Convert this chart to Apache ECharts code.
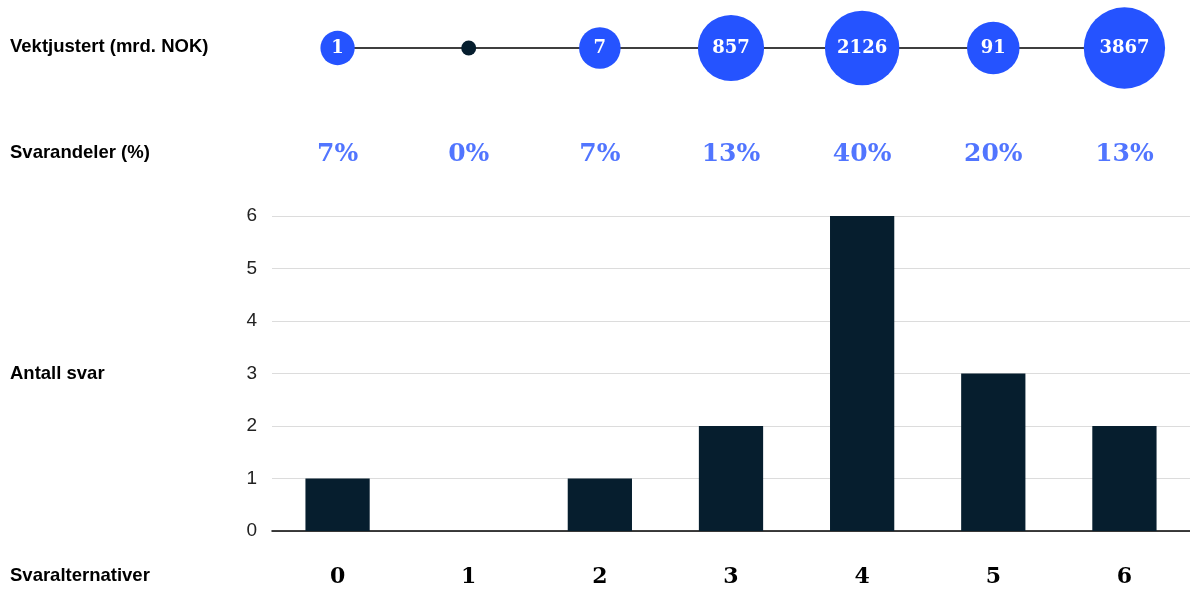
<!DOCTYPE html>
<html>
<head>
<meta charset="utf-8">
<script src="https://cdn.jsdelivr.net/npm/echarts@6/dist/echarts.min.js"></script>
<style>html,body{margin:0;padding:0;background:#fff}#c{width:1190px;height:589px}</style>
</head>
<body>
<div id="c"></div>
<script>
const categories = ['0', '1', '2', '3', '4', '5', '6'];
const answerCounts = [1, 0, 1, 2, 6, 3, 2];
const shares = [7, 0, 7, 13, 40, 20, 13];
const weighted = [1, 0, 7, 857, 2126, 91, 3867];
const yTicks = [0, 1, 2, 3, 4, 5, 6];
const rowLabels = ['Vektjustert (mrd. NOK)', 'Svarandeler (%)', 'Antall svar', 'Svaralternativer'];

const BLUE = '#2553ff';
const DARK = '#061e2e';
const SERIF = '"DejaVu Serif", "Liberation Serif", serif';
const SANS = '"Liberation Sans", Arial, sans-serif';

const chart = echarts.init(document.getElementById('c'));

function bubbleSize(v) {
  if (v === 0) return 15;
  return 34 + 8 * Math.log10(v) + 0.3 * Math.sqrt(v);
}

const rowY = [47, 153, 374, 576];

chart.setOption({
  animation: false,
  graphic: rowLabels.map((t, i) => ({
    type: 'text', x: 10, y: rowY[i],
    style: { text: t, font: 'bold 18.5px ' + SANS, fill: '#000', verticalAlign: 'middle', align: 'left' }
  })),
  grid: [
    { left: 272, right: 0, top: 216, bottom: 58 },
    { left: 272, right: 0, top: 8, height: 80 },
    { left: 272, right: 0, top: 134, height: 40 }
  ],
  xAxis: [
    {
      gridIndex: 0, type: 'category', data: categories,
      axisLine: { show: true, lineStyle: { color: '#000', width: 1.5 } },
      axisTick: { show: false },
      axisLabel: { margin: 35, fontFamily: SERIF, fontWeight: 'bold', fontSize: 22, color: '#000' }
    },
    { gridIndex: 1, type: 'category', data: categories, show: false },
    { gridIndex: 2, type: 'category', data: categories, show: false }
  ],
  yAxis: [
    {
      gridIndex: 0, type: 'value', min: yTicks[0], max: yTicks[yTicks.length - 1], interval: 1,
      axisLine: { show: false }, axisTick: { show: false },
      axisLabel: { margin: 15, fontFamily: SANS, fontSize: 19, color: '#222' },
      splitLine: { lineStyle: { color: '#dcdcdc', width: 1 } }
    },
    { gridIndex: 1, type: 'value', min: 0, max: 2, show: false },
    { gridIndex: 2, type: 'value', min: 0, max: 2, show: false }
  ],
  series: [
    {
      type: 'bar', xAxisIndex: 0, yAxisIndex: 0, data: answerCounts,
      barWidth: '49%', itemStyle: { color: DARK }
    },
    {
      type: 'line', xAxisIndex: 1, yAxisIndex: 1,
      data: weighted.map(v => ({
        value: 1,
        symbolSize: bubbleSize(v),
        itemStyle: { color: v === 0 ? DARK : BLUE },
        label: { show: v !== 0 }
      })),
      symbol: 'circle',
      showAllSymbol: true,
      lineStyle: { color: '#000', width: 1.5 },
      z: 3,
      label: {
        position: 'inside',
        formatter: p => String(weighted[p.dataIndex]),
        fontFamily: SERIF, fontWeight: 'bold', fontSize: 18, color: '#fff'
      }
    },
    {
      type: 'scatter', xAxisIndex: 2, yAxisIndex: 2,
      data: shares.map(() => 1), symbolSize: 0,
      label: {
        show: true, position: 'inside',
        formatter: p => shares[p.dataIndex] + '%',
        fontFamily: SERIF, fontWeight: 'bold', fontSize: 25, color: BLUE
      }
    }
  ]
});
</script>
</body>
</html>
